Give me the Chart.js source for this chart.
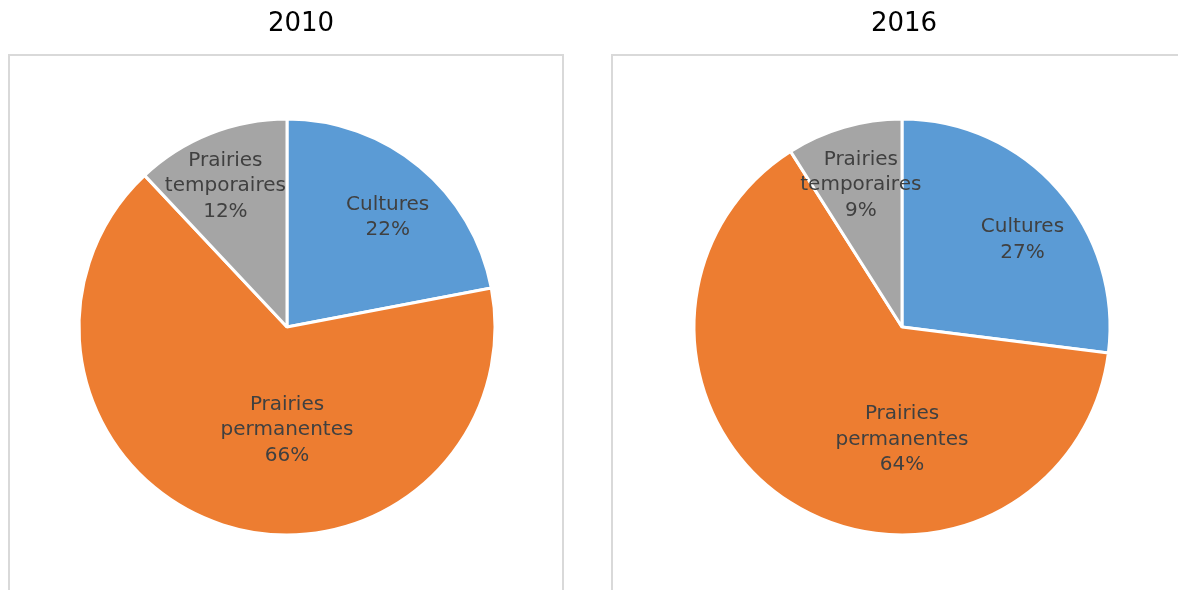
<!DOCTYPE html>
<html>
<head>
<meta charset="utf-8">
<script src="https://cdn.jsdelivr.net/npm/chart.js@4.4.1/dist/chart.umd.min.js"></script>
<style>
  html, body { margin: 0; padding: 0; background: #fff; overflow: hidden; }
  #wrap { position: relative; width: 1178px; height: 590px; }
  canvas { position: absolute; top: 0; }
</style>
</head>
<body>
<div id="wrap">
  <canvas id="pie2010" width="589" height="590" style="left:0px"></canvas>
  <canvas id="pie2016" width="589" height="590" style="left:589px"></canvas>
</div>
<script>
var categories = [['Cultures'], ['Prairies', 'permanentes'], ['Prairies', 'temporaires']];
var years = ['2010', '2016'];
var values2010 = [22, 66, 12];
var values2016 = [27, 64, 9];
var sliceColors = ['#5B9BD5', '#ED7D31', '#A5A5A5'];

// box around each pie + the year above it
var framePlugin = {
  id: 'frame',
  beforeDraw: function (chart, args, opts) {
    var ctx = chart.ctx;
    ctx.save();
    ctx.strokeStyle = '#d9d9d9';
    ctx.lineWidth = 2;
    ctx.beginPath();
    ctx.moveTo(opts.left, chart.height + 10);
    ctx.lineTo(opts.left, opts.top);
    ctx.lineTo(opts.right, opts.top);
    ctx.lineTo(opts.right, chart.height + 10);
    ctx.stroke();
    ctx.fillStyle = '#000';
    ctx.font = '26px "DejaVu Sans"';
    ctx.textAlign = 'center';
    ctx.textBaseline = 'middle';
    ctx.fillText(opts.text, opts.titleX, 24);
    ctx.restore();
  }
};

// slice labels: name lines + percent, placed inside the slices
var sliceLabels = {
  id: 'sliceLabels',
  afterDatasetsDraw: function (chart, args, opts) {
    var ctx = chart.ctx;
    var meta = chart.getDatasetMeta(0);
    var data = chart.data.datasets[0].data;
    ctx.save();
    ctx.fillStyle = '#404040';
    ctx.font = '20px "DejaVu Sans"';
    ctx.textAlign = 'center';
    ctx.textBaseline = 'middle';
    meta.data.forEach(function (arc, i) {
      var p = arc.getProps(['x', 'y', 'startAngle', 'endAngle', 'outerRadius'], true);
      var place = opts.placement[i];
      var angle = (p.startAngle + p.endAngle) / 2;
      if (place.angle !== undefined) {
        angle = (place.angle - 90) * Math.PI / 180;
      }
      if (place.turn) {
        angle += place.turn * Math.PI / 180;
      }
      var cx = p.x + Math.cos(angle) * p.outerRadius * place.frac;
      var cy = p.y + Math.sin(angle) * p.outerRadius * place.frac;
      var lines = chart.data.labels[i].concat([data[i] + '%']);
      var lh = 25.5;
      var y0 = cy - (lines.length - 1) * lh / 2;
      lines.forEach(function (line, j) {
        ctx.fillText(line, cx, y0 + j * lh);
      });
    });
    ctx.restore();
  }
};

function makePie(canvasId, year, values, padLeft, padRight, frame, placement) {
  var ctx = document.getElementById(canvasId).getContext('2d');
  return new Chart(ctx, {
    type: 'pie',
    data: {
      labels: categories,
      datasets: [{
        label: year,
        data: values,
        backgroundColor: sliceColors,
        borderColor: '#ffffff',
        borderWidth: 3,
        hoverOffset: 0
      }]
    },
    options: {
      responsive: false,
      animation: false,
      radius: 208,
      layout: {
        padding: { left: padLeft, right: padRight, top: 120, bottom: 56 }
      },
      plugins: {
        legend: { display: false },
        tooltip: { enabled: false },
        frame: frame,
        sliceLabels: { placement: placement }
      }
    },
    plugins: [framePlugin, sliceLabels]
  });
}

makePie('pie2010', years[0], values2010, 80, 95,
  { text: years[0], titleX: 301, left: 9, right: 563, top: 55 },
  [{ frac: 0.715, turn: 3 }, { angle: 180, frac: 0.495 }, { frac: 0.74, turn: -2 }]);

makePie('pie2016', years[1], values2016, 106, 69,
  { text: years[1], titleX: 315, left: 23, right: 620, top: 55 },
  [{ frac: 0.715, turn: 5.5 }, { angle: 180, frac: 0.54 }, { frac: 0.71 }]);
</script>
</body>
</html>
